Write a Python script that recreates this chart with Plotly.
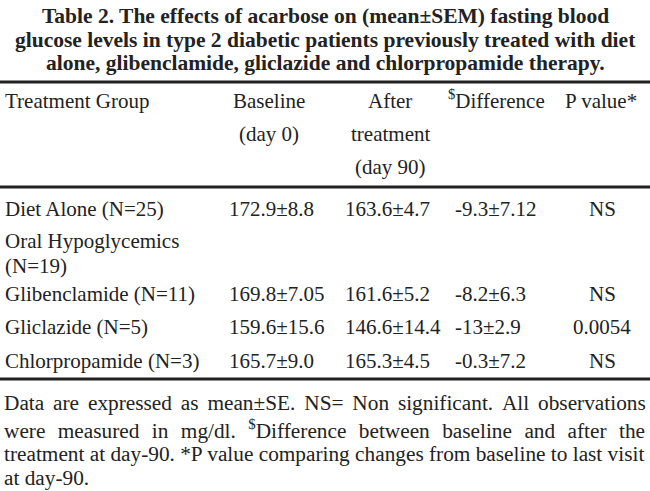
import plotly.graph_objects as go

# table contents
title_lines = [
    'Table 2. The effects of acarbose on (mean±SEM) fasting blood',
    'glucose levels in type 2 diabetic patients previously treated with diet',
    'alone, glibenclamide, gliclazide and chlorpropamide therapy.',
]
header_group = 'Treatment Group'
header_baseline = ['Baseline', '(day 0)']
header_after = ['After', 'treatment', '(day 90)']
header_diff = '<sup>$</sup>Difference'
header_p = 'P value*'

groups = ['Diet Alone (N=25)', 'Oral Hypoglycemics', '(N=19)',
          'Glibenclamide (N=11)', 'Gliclazide (N=5)', 'Chlorpropamide (N=3)']
baseline = ['172.9±8.8', '', '', '169.8±7.05', '159.6±15.6', '165.7±9.0']
after = ['163.6±4.7', '', '', '161.6±5.2', '146.6±14.4', '165.3±4.5']
difference = ['-9.3±7.12', '', '', '-8.2±6.3', '-13±2.9', '-0.3±7.2']
p_values = ['NS', '', '', 'NS', '0.0054', 'NS']

footnote_lines = [
    'Data are expressed as mean±SE. NS= Non significant. All observations',
    'were measured in mg/dl. <sup>$</sup>Difference between baseline and after the',
    'treatment at day-90. *P value comparing changes from baseline to last visit',
    'at day-90.',
]
# extra word spacing so the footnote looks justified like the print
foot_gap = ['\u2006', '\u00a0\u200a', '', '']

W, H = 650, 491
FONT = 'Liberation Serif'
INK = '#222222'

row_y = [209, 241, 266, 294, 327, 361]
title_y = [16, 40, 63]
foot_y = [403, 429, 454, 478]

fig = go.Figure()


def txt(x, y, s, anchor='left', size=21, bold=False):
    if not s:
        return  # empty cell
    if bold:
        s = f'<b>{s}</b>'
    fig.add_annotation(x=x, y=y, text=s, showarrow=False, xanchor=anchor,
                       yanchor='middle', font=dict(family=FONT, size=size, color=INK))


for y, s in zip(title_y, title_lines):
    txt(W / 2, y, s, anchor='center', size=21.5, bold=True)

# header
txt(3, 101, header_group)
for y, s in zip([101, 134], header_baseline):
    txt(269, y, s, anchor='center')
for y, s in zip([101, 134, 167], header_after):
    txt(390, y, s, anchor='center')
txt(446, 99, header_diff)
txt(601, 101, header_p, anchor='center')

# body
for i, y in enumerate(row_y):
    txt(3, y, groups[i])
    txt(227, y, baseline[i])
    txt(343, y, after[i])
    txt(453, y, difference[i])
    txt(602, y, p_values[i], anchor='center')

for y, s, g in zip(foot_y, footnote_lines, foot_gap):
    txt(2, y, s.replace(' ', ' ' + g) if g else s, size=21.3)

# horizontal rules
for y, w in [(82, 3), (187, 3), (379, 3)]:
    fig.add_shape(type='line', x0=0, x1=W, y0=y, y1=y,
                  line=dict(color=INK, width=w))

fig.update_xaxes(range=[0, W], visible=False)
fig.update_yaxes(range=[H, 0], visible=False)
fig.update_layout(width=W, height=H, margin=dict(l=0, r=0, t=0, b=0),
                  paper_bgcolor='white', plot_bgcolor='white', showlegend=False)
fig.write_html('out.html', config={'displayModeBar': False},
               post_script="document.body.style.margin='0';")
